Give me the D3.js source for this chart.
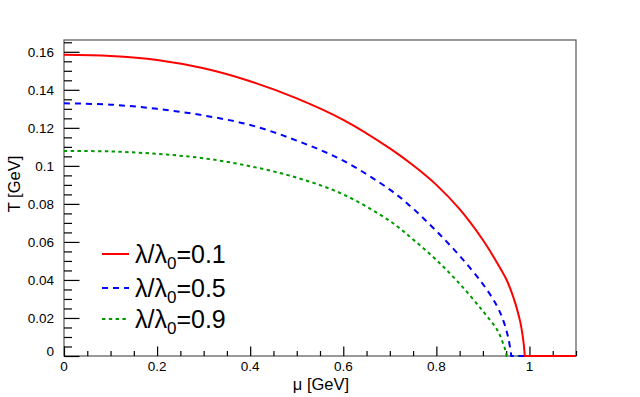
<!DOCTYPE html>
<html>
<head>
<meta charset="utf-8">
<script src="https://cdn.jsdelivr.net/npm/d3@7"></script>
<style>
  html, body { margin: 0; padding: 0; background: #fff; }
  svg { display: block; font-family: "Liberation Sans", Arial, Helvetica, sans-serif; }
</style>
</head>
<body>
<svg id="chart" width="640" height="397"></svg>
<script>
// ---- data ----
const muRed   = [0, 0.1, 0.2, 0.3, 0.4, 0.5, 0.6, 0.7, 0.75, 0.8, 0.85, 0.9, 0.93, 0.95, 0.96, 0.97, 0.98, 0.985, 0.988, 0.99, 1.1];
const tRed    = [0.1584, 0.1578, 0.1557, 0.1513, 0.1445, 0.1355, 0.1242, 0.1092, 0.1003, 0.0900, 0.0772, 0.0610, 0.0492, 0.0405, 0.0347, 0.0274, 0.0182, 0.0114, 0.0056, 0.0, 0.0];

const muBlue  = [0, 0.1, 0.2, 0.3, 0.4, 0.5, 0.6, 0.7, 0.75, 0.8, 0.85, 0.9, 0.93, 0.945, 0.955, 0.961, 1.1];
const tBlue   = [0.1329, 0.1322, 0.1300, 0.1265, 0.1215, 0.1133, 0.1027, 0.0875, 0.0775, 0.0657, 0.0527, 0.0378, 0.0264, 0.0178, 0.0090, 0.0, 0.0];

const muGreen = [0, 0.1, 0.2, 0.3, 0.4, 0.5, 0.6, 0.7, 0.75, 0.8, 0.85, 0.9, 0.93, 0.94, 0.948, 0.951, 1.1];
const tGreen  = [0.1078, 0.1076, 0.1063, 0.1040, 0.0998, 0.0938, 0.0850, 0.0710, 0.0613, 0.0505, 0.0380, 0.0236, 0.0140, 0.0088, 0.0032, 0.0, 0.0];

const seriesLabels = ["0.1", "0.5", "0.9"];
const xTickValues = [0, 0.2, 0.4, 0.6, 0.8, 1];
const xTickLabels = ["0", "0.2", "0.4", "0.6", "0.8", "1"];
const yTickValues = [0, 0.02, 0.04, 0.06, 0.08, 0.1, 0.12, 0.14, 0.16];
const yTickLabels = ["0", "0.02", "0.04", "0.06", "0.08", "0.1", "0.12", "0.14", "0.16"];
const xTitle = "μ [GeV]";
const yTitle = "T [GeV]";

// ---- layout ----
const svg = d3.select("#chart");
const frame = {left: 64, right: 576, top: 40, bottom: 356};
const x = d3.scaleLinear().domain([0, 1.1]).range([frame.left, frame.right]);
const y = d3.scaleLinear().domain([0, 0.1662]).range([frame.bottom, frame.top]);

// frame
svg.append("rect")
  .attr("x", frame.left).attr("y", frame.top)
  .attr("width", frame.right - frame.left).attr("height", frame.bottom - frame.top)
  .attr("fill", "none").attr("stroke", "#555").attr("stroke-width", 1.2);

// axes via d3.axis (ticks pointing inward)
const xMinor = d3.range(23).map(i => i * 0.05);
const yMinor = d3.range(34).map(i => i * 0.005);
const gx = svg.append("g").attr("transform", `translate(0,${frame.bottom})`)
  .call(d3.axisTop(x).tickValues(xMinor).tickSize(5).tickFormat(""));
gx.select(".domain").remove();
gx.selectAll(".tick line").filter((d, i) => i % 4 === 0).attr("y2", -9.5);
gx.selectAll(".tick line").attr("stroke", "#000").attr("stroke-width", 1.2);

const gy = svg.append("g").attr("transform", `translate(${frame.left},0)`)
  .call(d3.axisRight(y).tickValues(yMinor).tickSize(8).tickFormat(""));
gy.select(".domain").remove();
gy.selectAll(".tick line").filter((d, i) => i % 4 === 0).attr("x2", 15.5);
gy.selectAll(".tick line").attr("stroke", "#000").attr("stroke-width", 1.2);

svg.append("g").selectAll("text").data(xTickValues).join("text")
  .attr("x", d => x(d)).attr("y", 371)
  .attr("text-anchor", "middle").attr("font-size", 13.5)
  .text((d, i) => xTickLabels[i]);

svg.append("g").selectAll("text").data(yTickValues).join("text")
  .attr("x", 54).attr("y", d => d === 0 ? y(d) - 0.5 : y(d) + 4.8)
  .attr("text-anchor", "end").attr("font-size", 13.5)
  .text((d, i) => yTickLabels[i]);

// axis titles
svg.append("text").attr("x", 321).attr("y", 390)
  .attr("text-anchor", "middle").attr("font-size", 16.5).text(xTitle);
svg.append("text")
  .attr("transform", "translate(20,184) rotate(-90)")
  .attr("text-anchor", "middle").attr("font-size", 16.5).text(yTitle);

// curves: smooth part up to the first zero, then straight along T = 0
const smooth = d3.line().x(d => x(d[0])).y(d => y(d[1])).curve(d3.curveCatmullRom.alpha(0.5));
const straight = d3.line().x(d => x(d[0])).y(d => y(d[1]));
function curvePath(mu, t) {
  const pts = mu.map((m, i) => [m, t[i]]);
  const k = t.indexOf(0);
  const a = smooth(pts.slice(0, k + 1));
  const b = straight(pts.slice(k)).replace(/^M/, "L");
  return a + b;
}
const series = [
  {mu: muRed, t: tRed, color: "#ff0000", dash: null},
  {mu: muBlue, t: tBlue, color: "#0000ff", dash: "6,5"},
  {mu: muGreen, t: tGreen, color: "#009900", dash: "3.4,3.4"}
];
series.slice().reverse().forEach(s => {
  svg.append("path")
    .attr("d", curvePath(s.mu, s.t))
    .attr("fill", "none").attr("stroke", s.color).attr("stroke-width", 2)
    .attr("stroke-dasharray", s.dash);
});

// legend
const legY = [254, 288, 319];
series.forEach((s, i) => {
  svg.append("line")
    .attr("x1", 102).attr("x2", 129).attr("y1", legY[i]).attr("y2", legY[i])
    .attr("stroke", s.color).attr("stroke-width", 2)
    .attr("stroke-dasharray", s.dash);
  const t = svg.append("text").attr("x", 135).attr("y", legY[i] + 9).attr("font-size", 25);
  t.append("tspan").text("λ/λ");
  t.append("tspan").attr("font-size", 17).attr("dy", 6).text("0");
  t.append("tspan").attr("dy", -6).text("=" + seriesLabels[i]);
});
</script>
</body>
</html>
